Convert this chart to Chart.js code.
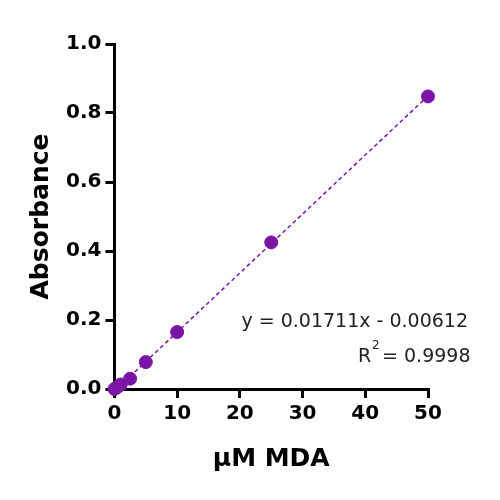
<!DOCTYPE html>
<html><head><script src="https://cdn.jsdelivr.net/npm/chart.js@4"></script>
<style>body{margin:0;background:#fff}#w{width:500px;height:500px}</style></head>
<body><div id="w"><canvas id="c"></canvas></div>
<script>
const concentrations=[0,0.5,1,2.5,5,10,25,50];
const absorbance=[0,0.006,0.013,0.03,0.078,0.165,0.425,0.848];
const fitX=[0,50];
const fitY=[-0.00612,0.84938];
const eqLine1='y = 0.01711x - 0.00612';
const purple='#7a16a6';
const F='"DejaVu Sans", sans-serif';
const textPlugin={id:'eq',afterDraw(ch){const c=ch.ctx;c.save();c.fillStyle='#222';c.font='19px '+F;c.textAlign='right';
c.fillText(eqLine1,468,327);
c.textAlign='left';c.fillText('R',358,362);c.font='12px '+F;c.fillText('2',372,349);c.font='19px '+F;c.fillText(' = 0.9998',376,362);c.restore();}};
const gridOpt={drawOnChartArea:false,drawTicks:true,tickLength:9,color:'#000',tickColor:'#000',tickWidth:3,lineWidth:3};
new Chart(document.getElementById('c'),{type:'scatter',
data:{datasets:[
{data:fitX.map((x,i)=>({x,y:fitY[i]})),showLine:true,borderColor:purple,borderDash:[4,3],borderWidth:1.5,pointRadius:0,clip:false},
{data:concentrations.map((x,i)=>({x,y:absorbance[i]})),backgroundColor:purple,borderColor:purple,pointRadius:6.5,clip:false}]},
options:{responsive:true,maintainAspectRatio:false,animation:false,
layout:{padding:{top:44,right:72,bottom:22,left:22}},
plugins:{legend:{display:false},tooltip:{enabled:false}},
scales:{
x:{type:'linear',min:0,max:50,ticks:{stepSize:10,color:'#000',font:{family:F,size:20,weight:'bold'},padding:4},
grid:gridOpt,border:{color:'#000',width:3},
title:{display:true,text:'µM MDA',color:'#000',font:{family:F,size:25,weight:'bold'},padding:{top:14}}},
y:{min:0,max:1,ticks:{stepSize:0.2,color:'#000',callback:v=>v.toFixed(1),font:{family:F,size:20,weight:'bold'},padding:4},
grid:gridOpt,border:{color:'#000',width:3},
title:{display:true,text:'Absorbance',color:'#000',font:{family:F,size:25,weight:'bold'},padding:{bottom:6}}}}},
plugins:[textPlugin]});
</script></body></html>
